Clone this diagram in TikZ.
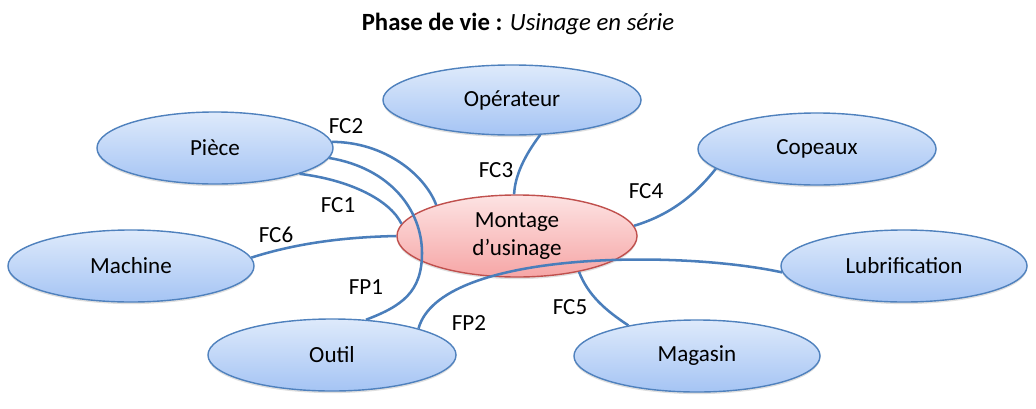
\documentclass[tikz,border=0pt]{standalone}
\usepackage{fontspec}
\setmainfont{Carlito}
\usetikzlibrary{shapes.geometric,shadows}

\definecolor{lien}{RGB}{74,126,187}
\definecolor{bord}{RGB}{79,129,189}
\definecolor{bordr}{RGB}{192,80,77}

\tikzset{
  milieu/.style={ellipse, draw=bord, line width=1pt, inner sep=0pt,
    top color={rgb,255:red,222;green,234;blue,251}, bottom color={rgb,255:red,165;green,196;blue,244},
    minimum width=6.15cm, minimum height=1.8cm,
    drop shadow={shadow xshift=0pt, shadow yshift=-1.5pt, opacity=0.25, fill=gray}},
  centre/.style={milieu, draw=bordr, align=center,
    top color={rgb,255:red,253;green,227;blue,227}, bottom color={rgb,255:red,246;green,166;blue,166},
    minimum width=6cm, minimum height=2.05cm},
  lien/.style={draw=lien, line width=1.8pt},
  lab/.style={inner sep=0pt}
}

\begin{document}
\begin{tikzpicture}[x=0.025cm, y=-0.025cm, font=\fontsize{16.4}{19.5}\selectfont]
\useasboundingbox (0,0) rectangle (1036,408);

% titre
\node[lab, font=\fontsize{17.6}{21}\selectfont] (titre) at (518,24) {\textbf{Phase de vie :} \textit{Usinage en série}};

% elements du milieu exterieur
\node[milieu, minimum width=6.45cm, minimum height=1.75cm] (oper) at (512,100) {Opérateur};
\node[milieu, minimum width=5.9cm] (piece) at (215,148) {Pièce};
\node[milieu, minimum width=5.95cm] (cop) at (817,149) {Copeaux};
\node[milieu] (mach) at (131,266) {Machine};
\node[milieu] (lub) at (904,266) {Lubrification};
\node[milieu, minimum width=6.2cm] (outil) at (332,355) {Outil};
\node[milieu] (mag) at (697,356) {Magasin};
\node[centre] (mont) at (517,236) {Montage\\d'usinage};

% fonctions
\draw[lien] (piece.3) .. controls (385,142) and (425,175) .. (mont.159);
\draw[lien] (piece.-17) .. controls (350,180) and (390,200) .. (mont.174);
\draw[lien] (mach.4) .. controls (300,242) and (350,237) .. (mont.180);
\draw[lien] (oper.-51) .. controls (525,155) and (515,175) .. (mont.94);
\draw[lien] (mont.5) .. controls (670,215) and (695,195) .. (cop.191);
\draw[lien] (mont.-30) .. controls (588,295) and (605,310) .. (mag.156);
\coordinate (p1) at (422,253);
\draw[lien] (piece.-5) .. controls (390,168) and (422,210) .. (p1)
  .. controls (422,292) and (402,306) .. (outil.46);
\draw[lien] (outil.17) .. controls (440,250) and (680,250) .. (lub.183);

% etiquettes
\node[lab] (fc2) at (346,126) {FC2};
\node[lab] (fc1) at (338,205) {FC1};
\node[lab] (fc6) at (276,235) {FC6};
\node[lab] (fp1) at (366,287) {FP1};
\node[lab] (fc3) at (496,170) {FC3};
\node[lab] (fc4) at (646,191) {FC4};
\node[lab] (fc5) at (570,307) {FC5};
\node[lab] (fp2) at (469,323) {FP2};
\end{tikzpicture}
\end{document}
